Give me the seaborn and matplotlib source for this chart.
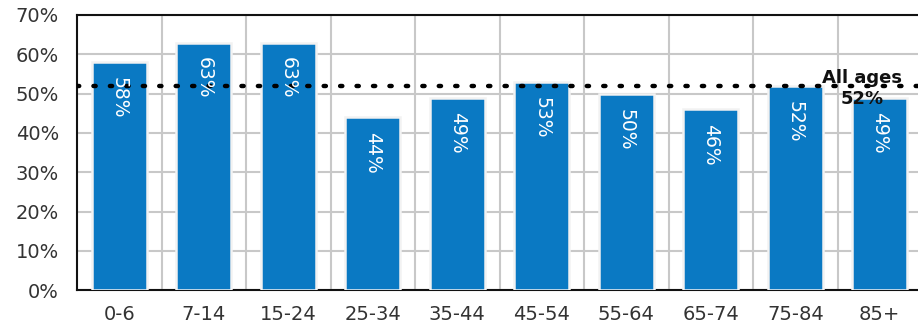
import matplotlib
matplotlib.use("Agg")
import matplotlib.pyplot as plt
import seaborn as sns
import pandas as pd
from matplotlib.ticker import MultipleLocator, FuncFormatter

age_groups = ["0-6", "7-14", "15-24", "25-34", "35-44", "45-54", "55-64", "65-74", "75-84", "85+"]
share_pct = [58, 63, 63, 44, 49, 53, 50, 46, 52, 49]
all_ages_pct = 52

df = pd.DataFrame({"age": age_groups, "share": share_pct})

sns.set_theme(style="white")
plt.rcParams["font.family"] = ["DejaVu Sans"]

fig = plt.figure(figsize=(9.18, 3.26), dpi=100)
ax = fig.add_axes([0.0839, 0.110, 0.9205, 0.844])

bar_color = "#0a79c3"
sns.barplot(data=df, x="age", y="share", color=bar_color, width=0.65,
            edgecolor="#f2f2f2", linewidth=1.8, saturation=1, ax=ax, zorder=3)

ax.set_ylim(0, 70)
ax.set_xlim(-0.5, len(age_groups) - 0.5)
ax.yaxis.set_major_locator(MultipleLocator(10))
ax.yaxis.set_major_formatter(FuncFormatter(lambda v, _: f"{v:.0f}%"))
ax.set_xticks(range(len(age_groups)))
ax.set_xticks([i + 0.5 for i in range(len(age_groups) - 1)], minor=True)

ax.grid(axis="y", which="major", color="#c8c8c8", linewidth=1.5, zorder=0)
ax.grid(axis="x", which="minor", color="#c8c8c8", linewidth=1.5, zorder=0)
ax.grid(axis="x", which="major", visible=False)
ax.set_axisbelow(True)

ax.set_xlabel("")
ax.set_ylabel("")
ax.tick_params(axis="both", which="both", length=0, labelsize=14, colors="#333333")
ax.tick_params(axis="y", pad=13)
ax.tick_params(axis="x", pad=11)

for side in ["top", "left", "bottom"]:
    ax.spines[side].set_visible(True)
    ax.spines[side].set_color("#111111")
    ax.spines[side].set_linewidth(1.5)
ax.spines["right"].set_visible(False)
ax.spines["bottom"].set_zorder(1)

# Average across all ages
ax.axhline(all_ages_pct, color="black", linestyle=(0, (0.5, 3.2)), linewidth=3.2,
           dash_capstyle="round", zorder=4)
ax.text(8.79, all_ages_pct + 0.6, "All ages", ha="center", va="baseline",
        fontsize=13, fontweight="bold", color="#111111", zorder=5)
ax.text(8.79, all_ages_pct - 1.2, f"{all_ages_pct}%", ha="center", va="top",
        fontsize=13, fontweight="bold", color="#111111", zorder=5)

# Value labels inside each bar
for i, v in enumerate(share_pct):
    ax.text(i, v - 3.8, f"{v}%", rotation=270, ha="center", va="top",
            color="white", fontsize=13.5, zorder=6)

fig.savefig("out.png", dpi=100)
